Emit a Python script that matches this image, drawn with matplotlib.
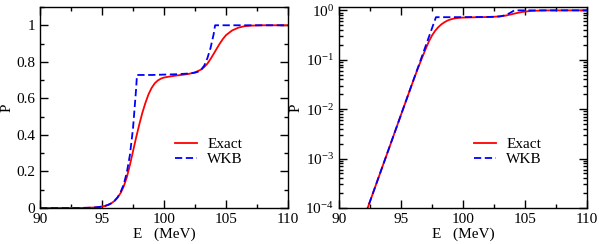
import matplotlib
matplotlib.use("Agg")
import matplotlib.pyplot as plt
from matplotlib.ticker import MultipleLocator, LogLocator, FixedLocator, NullFormatter, FixedFormatter

plt.rcParams['font.family'] = ['Liberation Serif', 'DejaVu Serif']
plt.rcParams['mathtext.fontset'] = 'custom'
plt.rcParams['mathtext.rm'] = 'Liberation Serif'
plt.rcParams['mathtext.it'] = 'Liberation Serif:italic'
plt.rcParams['font.size'] = 11

# Data
energy_exact = [90, 90.5, 91, 91.5, 92, 92.5, 93, 93.5, 94, 94.5, 95, 95.25, 95.5, 95.75,
                96, 96.25, 96.5, 96.75, 97, 97.25, 97.5, 97.75, 98, 98.25, 98.5, 98.75,
                99, 99.25, 99.5, 99.75, 100, 100.5, 101, 101.5, 102, 102.5, 103, 103.25,
                103.5, 103.75, 104, 104.25, 104.5, 104.75, 105, 105.5, 106, 106.5, 107,
                108, 110]
p_exact = [2.4e-6, 5.38e-6, 1.21e-5, 2.71e-5, 6.07e-5, 1.36e-4, 3.05e-4, 6.83e-4, 1.53e-3,
           3.43e-3, 7.69e-3, 0.0115, 0.0172, 0.0257, 0.0383, 0.0565, 0.082, 0.118, 0.168,
           0.235, 0.31, 0.385, 0.455, 0.52, 0.575, 0.622, 0.657, 0.682, 0.698, 0.708, 0.714,
           0.72, 0.725, 0.729, 0.734, 0.742, 0.758, 0.772, 0.79, 0.815, 0.843, 0.872, 0.9,
           0.925, 0.946, 0.972, 0.987, 0.995, 0.998, 1.0, 1.0]

energy_wkb = [90, 90.5, 91, 91.5, 92, 92.5, 93, 93.5, 94, 94.5, 95, 95.25, 95.5, 95.75,
              96, 96.25, 96.5, 96.75, 97, 97.25, 97.5, 97.75, 97.82, 99, 100, 101, 102,
              102.5, 102.75, 103, 103.25, 103.5, 103.75, 104, 104.12, 110]
p_wkb = [2.4e-6, 5.38e-6, 1.21e-5, 2.71e-5, 6.07e-5, 1.36e-4, 3.05e-4, 6.83e-4, 1.53e-3,
         3.43e-3, 7.69e-3, 0.0115, 0.0172, 0.0258, 0.0386, 0.0578, 0.0865, 0.129, 0.194,
         0.29, 0.435, 0.651, 0.728, 0.728, 0.73, 0.732, 0.736, 0.741, 0.746, 0.757, 0.78,
         0.82, 0.875, 0.95, 1.0, 1.0]

series_labels = ["Exact", "WKB"]
x_ticks = [90, 95, 100, 105, 110]
lin_y_ticks = [0, 0.2, 0.4, 0.6, 0.8, 1.0]
lin_y_labels = ["0", "0.2", "0.4", "0.6", "0.8", "1"]
log_y_ticks = [1e-4, 1e-3, 1e-2, 1e-1, 1e0]
log_y_labels = [r"$10^{-4}$", r"$10^{-3}$", r"$10^{-2}$", r"$10^{-1}$", r"$10^{0}$"]

fig = plt.figure(figsize=(5.99, 2.44), dpi=100)
ax1 = fig.add_axes([40/599, 1-208/244, 248/599, 201/244])
ax2 = fig.add_axes([339/599, 1-208/244, 248/599, 201/244])

for ax in (ax1, ax2):
    ax.plot(energy_exact, p_exact, color='#ff0000', lw=1.3, label=series_labels[0])
    ax.plot(energy_wkb, p_wkb, color='#0000ff', lw=1.3, ls=(0, (4, 2)), label=series_labels[1])
    ax.set_xlim(90, 110)
    ax.xaxis.set_major_locator(FixedLocator(x_ticks))
    ax.xaxis.set_minor_locator(MultipleLocator(2.5))
    ax.tick_params(which='both', direction='in', top=True, right=True, labelsize=11)
    ax.tick_params(which='major', length=6, width=1)
    ax.tick_params(which='minor', length=3, width=1)
    for s in ax.spines.values():
        s.set_linewidth(1)
    ax.set_xlabel("E   (MeV)", fontsize=11, labelpad=1)
    ax.set_ylabel("P", fontsize=11, labelpad=2)
    leg = ax.legend(loc='upper left', bbox_to_anchor=(0.515, 0.39), frameon=False,
                    handlelength=1.4, handletextpad=0.7, labelspacing=0.1,
                    borderpad=0, fontsize=11)

ax1.set_ylim(0, 1.1)
ax1.yaxis.set_major_locator(FixedLocator(lin_y_ticks))
ax1.yaxis.set_major_formatter(FixedFormatter(lin_y_labels))
ax1.yaxis.set_minor_locator(MultipleLocator(0.1))

ax2.set_yscale('log')
ax2.set_ylim(1e-4, 1.17)
ax2.yaxis.set_major_locator(FixedLocator(log_y_ticks))
ax2.yaxis.set_major_formatter(FixedFormatter(log_y_labels))
ax2.yaxis.set_minor_locator(LogLocator(base=10, subs=range(2, 10), numticks=20))
ax2.yaxis.set_minor_formatter(NullFormatter())

fig.savefig("out.png", dpi=100)
